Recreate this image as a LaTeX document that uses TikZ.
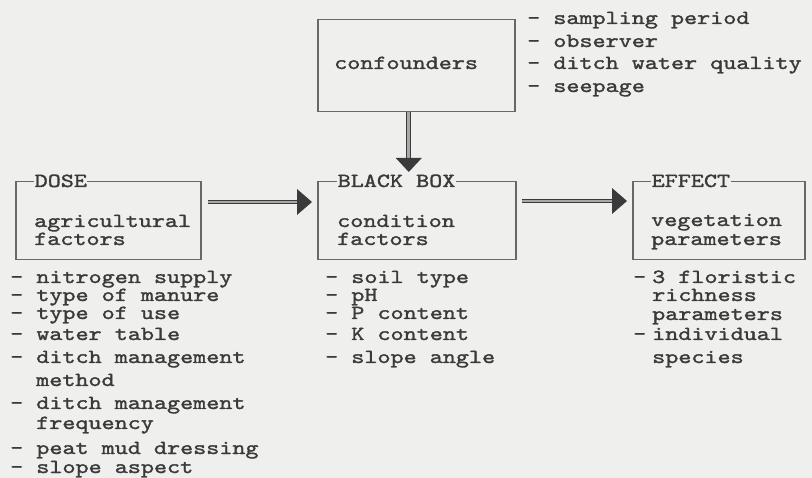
\documentclass[tikz,border=0pt]{standalone}
\usepackage{fontspec}
\usetikzlibrary{calc}
\definecolor{bg}{HTML}{EFEFED}
\definecolor{ink}{HTML}{3A3A3A}
\definecolor{edge}{HTML}{686868}
\definecolor{shaftin}{HTML}{A8A8A8}
\newfontfamily\courfam{lmmono10-regular}[Extension=.otf, FakeStretch=1.245, FakeBold=1.5]
\newcommand\courfont{\courfam\fontsize{20}{24}\selectfont}
\begin{document}
\begin{tikzpicture}[x=1pt,y=-1pt,
  txt/.style={anchor=base west, inner sep=0pt, text=ink, font=\courfont},
  box/.style={draw=edge, line width=1.5pt, anchor=north west, inner sep=0pt},
  lbl/.style={txt, fill=bg, inner xsep=0.5pt, inner ysep=1pt},
  shaft/.style={draw=ink, line width=1.1pt, double=shaftin, double distance=2.6pt},
  head/.style={fill=ink}]
\fill[bg] (0,0) rectangle (812,478);
\useasboundingbox (0,0) rectangle (812,478);

% boxes
\node[box, minimum width=197pt, minimum height=92pt] (conf) at (317,19) {};
\node[box, minimum width=185pt, minimum height=78pt] (dose) at (15,181) {};
\node[box, minimum width=198pt, minimum height=78pt] (bb) at (317,181) {};
\node[box, minimum width=172pt, minimum height=78pt] (eff) at (632,181) {};

% box labels on top edges
\node[lbl] (doselbl) at (34,187) {DOSE};
\node[lbl] (bblbl) at (337,187) {BLACK BOX};
\node[lbl] (efflbl) at (651,187) {EFFECT};

% box contents
\node[txt] (conftxt) at (334,69) {confounders};
\node[txt] (dosetxt1) at (34,227) {agricultural};
\node[txt] (dosetxt2) at (34,245) {factors};
\node[txt] (bbtxt1) at (337,227) {condition};
\node[txt] (bbtxt2) at (337,245) {factors};
\node[txt] (efftxt1) at (651,226) {vegetation};
\node[txt] (efftxt2) at (651,245) {parameters};

% confounders list
\node[txt] (c1) at (527,24) {- sampling period};
\node[txt] (c2) at (527,47) {- observer};
\node[txt] (c3) at (527,69) {- ditch water quality};
\node[txt] (c4) at (527,92) {- seepage};

% dose list
\node[txt] (d1) at (10,283) {- nitrogen supply};
\node[txt] (d2) at (10,301) {- type of manure};
\node[txt] (d3) at (10,319) {- type of use};
\node[txt] (d4) at (10,340) {- water table};
\node[txt] (d5) at (10,363) {- ditch management};
\node[txt] (d5b) at (36,386) {method};
\node[txt] (d6) at (10,409) {- ditch management};
\node[txt] (d6b) at (36,429) {frequency};
\node[txt] (d7) at (10,454) {- peat mud dressing};
\node[txt] (d8) at (10,473) {- slope aspect};

% black box list
\node[txt] (b1) at (325,283) {- soil type};
\node[txt] (b2) at (325,301) {- pH};
\node[txt] (b3) at (325,319) {- P content};
\node[txt] (b4) at (325,340) {- K content};
\node[txt] (b5) at (325,363) {- slope angle};

% effect list
\node[txt] (e1d) at (633,283) {-};
\node[txt] (e1) at (652,283) {3 floristic};
\node[txt] (e1b) at (652,301) {richness};
\node[txt] (e1c) at (652,320) {parameters};
\node[txt] (e2d) at (633,340) {-};
\node[txt] (e2) at (652,340) {individual};
\node[txt] (e2b) at (652,363) {species};

% arrows
\coordinate (s1) at ($(dose.north east)+(6,21)$);
\coordinate (t1) at ($(bb.north west)+(-5,21)$);
\coordinate (s2) at ($(bb.north east)+(5,20)$);
\coordinate (t2) at ($(eff.north west)+(-5,20)$);
\coordinate (s3) at ($(conf.south)+(-7.5,0)$);
\coordinate (t3) at ($(bb.north)+(-8,-9)$);

\draw[shaft] (s1) -- ($(t1)+(-14,0)$);
\fill[head] (t1) -- ++(-15,-13) -- ++(0,26) -- cycle;
\draw[shaft] (s2) -- ($(t2)+(-14,0)$);
\fill[head] (t2) -- ++(-15,-13) -- ++(0,26) -- cycle;
\draw[shaft] (s3) -- ($(t3)+(0,-13)$);
\fill[head] (t3) -- ++(-13,-14) -- ++(26,0) -- cycle;
\end{tikzpicture}
\end{document}
